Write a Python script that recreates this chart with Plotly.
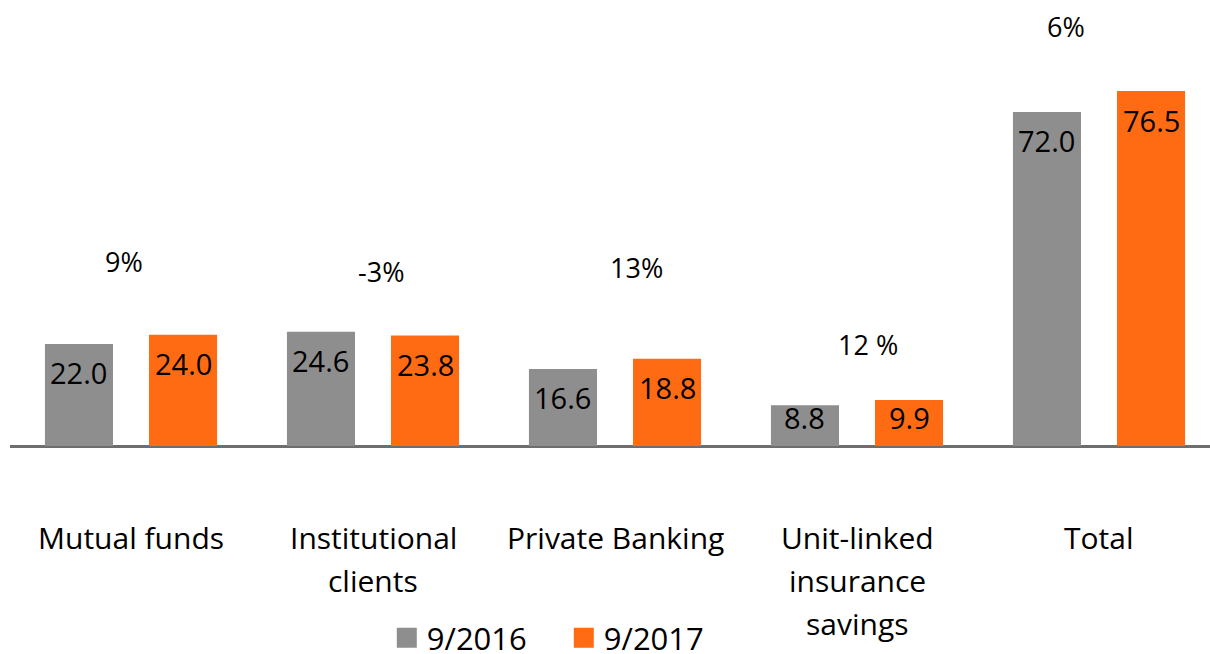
import plotly.graph_objects as go

# Assets by business line, EUR billion
categories = ["Mutual funds", "Institutional<br>clients", "Private Banking",
              "Unit-linked<br>insurance<br>savings", "Total"]
values_2016 = [22.0, 24.6, 16.6, 8.8, 72.0]
values_2017 = [24.0, 23.8, 18.8, 9.9, 76.5]
growth_labels = ["9%", "-3%", "13%", "12 %", "6%"]
series_names = ["9/2016", "9/2017"]

GREY = "#8e8e8e"
ORANGE = "#ff6b12"
FONT = "Open Sans"
PX_PER_UNIT = 4.64   # vertical scale of the value axis
PLOT_H = 446

x_idx = list(range(len(categories)))

fig = go.Figure()
for vals, name, col in ((values_2016, series_names[0], GREY),
                        (values_2017, series_names[1], ORANGE)):
    fig.add_trace(go.Bar(x=x_idx, y=vals, name=name, showlegend=False,
                         marker=dict(color=col, line=dict(width=0))))
# legend keys drawn as larger square markers
for name, col in ((series_names[0], GREY), (series_names[1], ORANGE)):
    fig.add_trace(go.Scatter(x=[None], y=[None], mode="markers", name=name,
                             marker=dict(symbol="square", size=20, color=col,
                                         line=dict(width=4, color=col))))

annotations = []

# value labels inside each bar, near the top (kept off the baseline for short bars)
inset = 29 / PX_PER_UNIT
half_slot = 0.215
for vals, dx in ((values_2016, -half_slot), (values_2017, half_slot)):
    for i, v in enumerate(vals):
        annotations.append(dict(x=i + dx, y=max(v - inset, inset), xref="x", yref="y",
                                text=f"{v:.1f}", showarrow=False,
                                font=dict(family=FONT, size=29, color="#000000")))

# growth percentages above each group: (x shift px, height px above baseline)
growth_pos = [(-7, 185), (8, 175), (21, 179), (11, 102), (-33, 420)]
for i, (g, (sx, hy)) in enumerate(zip(growth_labels, growth_pos)):
    annotations.append(dict(x=i, y=hy / PX_PER_UNIT, xref="x", yref="y", xshift=sx,
                            text=g, showarrow=False,
                            font=dict(family=FONT, size=27, color="#000000")))

# category names below the axis, one annotation per line
line_gap = 43
for i, lab in enumerate(categories):
    for j, line in enumerate(lab.split("<br>")):
        annotations.append(dict(x=i, y=-(91 + j * line_gap) / PLOT_H, xref="x", yref="paper",
                                text=line, showarrow=False, yanchor="middle",
                                font=dict(family=FONT, size=30, color="#000000")))

fig.update_layout(
    width=1210, height=654,
    margin=dict(l=10, r=0, t=0, b=654 - PLOT_H, autoexpand=False),
    plot_bgcolor="white", paper_bgcolor="white",
    barmode="group", bargap=0.14, bargroupgap=0.346,
    font=dict(family=FONT, color="#000000"),
    showlegend=True,
    legend=dict(orientation="h", x=0.314, xanchor="left", y=-192 / PLOT_H, yanchor="middle",
                font=dict(family=FONT, size=31, color="#000000"),
                itemwidth=30, itemsizing="trace", traceorder="normal",
                entrywidth=132, entrywidthmode="pixels",
                bgcolor="rgba(0,0,0,0)"),
    xaxis=dict(range=[-0.5, -0.5 + 1200 / 242], showgrid=False, zeroline=False,
               showticklabels=False, ticks="", showline=False, fixedrange=True),
    yaxis=dict(range=[0, PLOT_H / PX_PER_UNIT], showgrid=False, zeroline=True,
               zerolinecolor="#6e6e6e", zerolinewidth=3,
               showticklabels=False, ticks="", showline=False),
    annotations=annotations,
)

fig.write_html("out.html")
